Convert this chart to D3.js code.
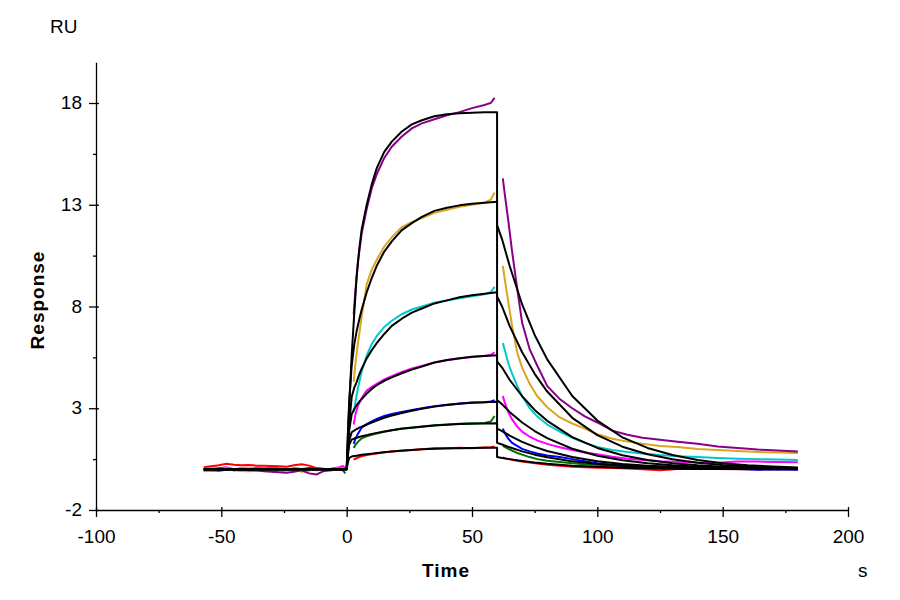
<!DOCTYPE html>
<html>
<head>
<meta charset="utf-8">
<script src="https://cdn.jsdelivr.net/npm/d3@7"></script>
<style>
body{margin:0;background:#fff}
svg{font-family:"Liberation Sans",Arial,sans-serif}
.axis path,.axis line{stroke:#000;stroke-width:1.3}
.axis text{font-size:19px;fill:#000}
</style>
</head>
<body>
<div id="chart"></div>
<script>
// axes
var xTicks=[-100,-50,0,50,100,150,200]
var xMinor=[-75,-25,25,75,125,175]
var yTicks=[-2,3,8,13,18]
var yMinor=[0.5,5.5,10.5,15.5]

// time grids (s)
var baseT=[-57,-54,-51,-48,-45,-42,-39,-36,-33,-30,-27,-24,-21,-18,-15,-12,-9,-6,-3,-1.5,-0.5]
var assocT=[2.8,3.5,4.5,6,8,10,12,15,18,22,26,30,35,40,45,50,55,57.5,59]
var dissT=[62.3,63,64.5,66,68,70,73,76,80,85,90,95,100,106,112,118,125,132,140,148,156,164,172,180]
var fitBaseT=[-57,0]
var fitAssocT=[0,0.5,1,2,3,4,5,6,8,10,12,15,18,22,26,30,35,40,45,50,55,60]
var fitDissT=[60,62,65,70,75,80,90,100,110,120,130,140,150,160,170,180]

// measured responses (RU)
var redBase=[0.1,0.15,0.2,0.27,0.22,0.2,0.21,0.18,0.17,0.16,0.15,0.13,0.2,0.25,0.18,0.05,0.03,0.02,0.05,0.03,0]
var redAssoc=[0.48,0.52,0.58,0.64,0.7,0.74,0.78,0.84,0.88,0.92,0.95,0.99,1.03,1.02,1.06,1.04,1.07,1.08,1.12]
var redDiss=[0.58,0.55,0.5,0.47,0.42,0.38,0.33,0.28,0.22,0.17,0.13,0.1,0.08,0.06,0.04,0,-0.05,0.02,0.02,0.01,0,0,0,0]

var greenBase=[0,-0.02,0.02,0,-0.05,0,0.02,-0.02,0,0.03,0,-0.03,0.05,0.02,0.06,0.05,0,0.02,0,-0.05,-0.2]
var greenAssoc=[1.05,1.2,1.35,1.52,1.62,1.7,1.76,1.84,1.92,2,2.06,2.1,2.16,2.2,2.24,2.26,2.28,2.35,2.62]
var greenDiss=[1.15,1.1,1,0.92,0.8,0.72,0.6,0.5,0.42,0.36,0.3,0.25,0.22,0.18,0.15,0.12,0.1,0.08,0.07,0.05,0.04,0.03,0.03,0.02]

var blueBase=[-0.08,-0.05,-0.07,-0.02,0,-0.05,-0.03,-0.06,-0.02,0,-0.04,-0.02,0,-0.03,-0.05,0,-0.05,0.03,0.02,0,-0.02]
var blueAssoc=[1.25,1.5,1.75,2.05,2.22,2.36,2.48,2.62,2.72,2.82,2.92,3,3.1,3.17,3.23,3.28,3.3,3.33,3.4]
var blueDiss=[2,1.8,1.5,1.3,1.15,1,0.88,0.78,0.68,0.6,0.5,0.4,0.3,0.22,0.18,0.14,0.12,0.1,0.08,0.06,0.02,-0.02,0,-0.02]

var magentaBase=[0.05,0.03,0.05,0.1,0,0.05,0.03,0.07,0.05,0.08,0.05,0.03,0,0.02,0,-0.05,0,0.03,0.1,0.16,0.05]
var magentaAssoc=[2.2,2.7,3.12,3.5,3.87,4.05,4.2,4.42,4.58,4.78,4.95,5.08,5.25,5.36,5.45,5.52,5.58,5.62,5.75]
var magentaDiss=[3.6,3.3,2.8,2.45,2.1,1.85,1.6,1.42,1.25,1.08,0.95,0.82,0.74,0.62,0.52,0.46,0.4,0.37,0.33,0.32,0.38,0.38,0.36,0.35]

var cyanBase=[0,0.03,0,0.05,0.02,0,0.03,0,0.02,0,0.02,0,0.03,0,0,0,0.02,0.03,0.05,0.05,0]
var cyanAssoc=[2.8,3.3,4,4.8,5.6,6.15,6.55,7,7.3,7.62,7.85,8,8.18,8.3,8.4,8.5,8.6,8.7,8.97]
var cyanDiss=[6.2,5.9,5.2,4.7,4.1,3.6,3,2.6,2.2,1.85,1.55,1.3,1.1,0.95,0.85,0.78,0.7,0.64,0.6,0.55,0.52,0.5,0.48,0.46]

var goldBase=[-0.1,-0.05,0,0.05,-0.05,-0.08,-0.1,-0.05,-0.08,-0.05,-0.1,-0.05,-0.02,-0.12,-0.05,0,-0.05,0,0,-0.02,-0.05]
var goldAssoc=[4.3,5.2,6.2,7.5,9.1,9.8,10.3,10.95,11.4,11.9,12.15,12.35,12.6,12.75,12.9,13,13.1,13.25,13.6]
var goldDiss=[10,9.4,8.2,7.05,5.75,5,4.2,3.6,3.05,2.55,2.25,2,1.72,1.5,1.36,1.25,1.15,1.1,1,0.95,0.9,0.85,0.82,0.8]

var purpleBase=[-0.05,0,0.05,0.02,-0.05,0,-0.05,-0.05,-0.1,-0.12,-0.15,-0.17,-0.12,-0.05,-0.2,-0.25,-0.08,-0.05,0,0,-0.05]
var purpleAssoc=[7.6,8.8,10.2,11.6,12.8,13.8,14.5,15.3,15.85,16.35,16.75,17,17.2,17.4,17.55,17.75,17.9,18,18.25]
var purpleDiss=[14.3,13.6,12.2,10.7,8.9,7.2,5.9,5.1,4.1,3.45,3,2.6,2.3,1.9,1.7,1.55,1.45,1.35,1.25,1.12,1.05,0.97,0.92,0.88]

// fitted curves (RU)
var fitBase=[0,0]
var redFitA=[0,0.35,0.55,0.63,0.65,0.67,0.69,0.71,0.74,0.77,0.8,0.84,0.87,0.91,0.95,0.98,1.01,1.03,1.04,1.05,1.06,1.06]
var redFitD=[0.6,0.56,0.5,0.41,0.33,0.27,0.18,0.12,0.08,0.05,0.03,0.02,0.01,0.01,0,0]
var greenFitA=[0,0.7,1.2,1.46,1.51,1.55,1.59,1.62,1.68,1.74,1.79,1.86,1.92,1.99,2.04,2.09,2.15,2.19,2.22,2.24,2.25,2.26]
var greenFitD=[1.3,1.22,1.08,0.88,0.72,0.59,0.39,0.26,0.17,0.11,0.07,0.05,0.03,0.02,0.01,0.01]
var blueFitA=[0,0.8,1.4,1.82,1.9,1.98,2.05,2.1,2.2,2.3,2.4,2.53,2.64,2.77,2.88,2.98,3.08,3.16,3.22,3.27,3.3,3.32]
var blueFitD=[2,1.88,1.66,1.35,1.1,0.9,0.6,0.4,0.26,0.17,0.12,0.08,0.05,0.03,0.02,0.01]
var magentaFitA=[0,1,1.9,2.7,2.95,3.15,3.32,3.45,3.72,3.95,4.13,4.35,4.52,4.72,4.9,5.05,5.25,5.37,5.46,5.53,5.57,5.6]
var magentaFitD=[3.4,3.2,2.82,2.3,1.88,1.53,1.01,0.67,0.45,0.3,0.2,0.13,0.09,0.06,0.04,0.03]
var cyanFitA=[0,1.2,2.2,3.55,4,4.3,4.65,4.95,5.45,5.85,6.2,6.65,7.05,7.4,7.7,7.9,8.15,8.3,8.45,8.55,8.63,8.7]
var cyanFitD=[5.3,5,4.4,3.59,2.92,2.38,1.58,1.05,0.69,0.46,0.3,0.2,0.13,0.09,0.06,0.04]
var goldFitA=[0,1.8,3.3,5.1,6.1,6.8,7.35,7.85,8.7,9.4,10,10.7,11.2,11.75,12.1,12.4,12.7,12.85,12.97,13.05,13.1,13.15]
var goldFitD=[8.5,8,7.05,5.75,4.69,3.82,2.53,1.68,1.11,0.74,0.49,0.32,0.21,0.14,0.1,0.06]
var purpleFitA=[0,1.7,3.1,5.6,7.6,9.5,10.8,11.8,13,14,14.8,15.6,16.1,16.6,16.95,17.15,17.35,17.45,17.5,17.52,17.55,17.55]
var purpleFitD=[12,11.3,10,8.1,6.6,5.4,3.6,2.4,1.57,1.05,0.7,0.46,0.3,0.2,0.14,0.09]

var series=[
    {color:'#ff0000', base:redBase, assoc:redAssoc, diss:redDiss, fitA:redFitA, fitD:redFitD},
    {color:'#007000', base:greenBase, assoc:greenAssoc, diss:greenDiss, fitA:greenFitA, fitD:greenFitD},
    {color:'#0000ff', base:blueBase, assoc:blueAssoc, diss:blueDiss, fitA:blueFitA, fitD:blueFitD},
    {color:'#ff00ff', base:magentaBase, assoc:magentaAssoc, diss:magentaDiss, fitA:magentaFitA, fitD:magentaFitD},
    {color:'#00c8c8', base:cyanBase, assoc:cyanAssoc, diss:cyanDiss, fitA:cyanFitA, fitD:cyanFitD},
    {color:'#daa520', base:goldBase, assoc:goldAssoc, diss:goldDiss, fitA:goldFitA, fitD:goldFitD},
    {color:'#880088', base:purpleBase, assoc:purpleAssoc, diss:purpleDiss, fitA:purpleFitA, fitD:purpleFitD}
]

var width=900, height=600
var svg=d3.select('#chart').append('svg')
    .attr('width',width)
    .attr('height',height)

var x=d3.scaleLinear().domain([-100,200]).range([96,848])
var y=d3.scaleLinear().domain([-2,20]).range([510,62.3])

function Zip(ts,vs){
    return ts.map(function(t,i){return [t,vs[i]]})
}
// plain hyphen minus like the original
function Fmt(d){ return String(d) }

var line=d3.line()
    .x(function(d){return x(d[0])})
    .y(function(d){return y(d[1])})

// measured traces
var g=svg.append('g').attr('class','traces')
series.forEach(function(s){
    [Zip(baseT,s.base), Zip(assocT,s.assoc), Zip(dissT,s.diss)].forEach(function(seg){
	g.append('path')
	    .datum(seg)
	    .attr('d',line)
	    .attr('fill','none')
	    .attr('stroke',s.color)
	    .attr('stroke-width',2)
    })
})

// fits on top
var gf=svg.append('g').attr('class','fits')
series.forEach(function(s){
    var pts=Zip(fitBaseT,fitBase).concat(Zip(fitAssocT,s.fitA)).concat(Zip(fitDissT,s.fitD))
    gf.append('path')
	.datum(pts)
	.attr('d',line)
	.attr('fill','none')
	.attr('stroke','#000')
	.attr('stroke-width',2)
	.attr('stroke-linejoin','round')
})

// x axis
var xa=svg.append('g')
    .attr('class','axis')
    .attr('transform','translate(0,510)')
    .call(d3.axisBottom(x).tickValues(xTicks).tickFormat(Fmt).tickSize(7).tickSizeOuter(0))
xa.selectAll('.tick line').attr('y1',-3)
xa.selectAll('.tick text').attr('y',33).attr('dy',0)
svg.append('g')
    .attr('class','axis')
    .attr('transform','translate(0,510)')
    .call(d3.axisBottom(x).tickValues(xMinor).tickSize(3).tickFormat(''))
    .select('.domain').remove()

// y axis
var ya=svg.append('g')
    .attr('class','axis')
    .attr('transform','translate(96,0)')
    .call(d3.axisLeft(y).tickValues(yTicks).tickFormat(Fmt).tickSize(7).tickSizeOuter(0))
ya.selectAll('.tick line').attr('x1',3)
ya.selectAll('.tick text').attr('x',-14).attr('dy','0.3em')
svg.append('g')
    .attr('class','axis')
    .attr('transform','translate(96,0)')
    .call(d3.axisLeft(y).tickValues(yMinor).tickSize(3).tickFormat(''))
    .select('.domain').remove()

// labels
svg.append('text')
    .attr('x',50).attr('y',33)
    .style('font-size','19px')
    .text('RU')
svg.append('text')
    .attr('transform','translate(44,300) rotate(-90)')
    .attr('text-anchor','middle')
    .style('font-size','19px')
    .style('font-weight','bold')
    .style('letter-spacing','1px')
    .text('Response')
svg.append('text')
    .attr('x',446).attr('y',577)
    .attr('text-anchor','middle')
    .style('font-size','19px')
    .style('font-weight','bold')
    .style('letter-spacing','1px')
    .text('Time')
svg.append('text')
    .attr('x',858).attr('y',577)
    .style('font-size','19px')
    .text('s')
</script>
</body>
</html>
